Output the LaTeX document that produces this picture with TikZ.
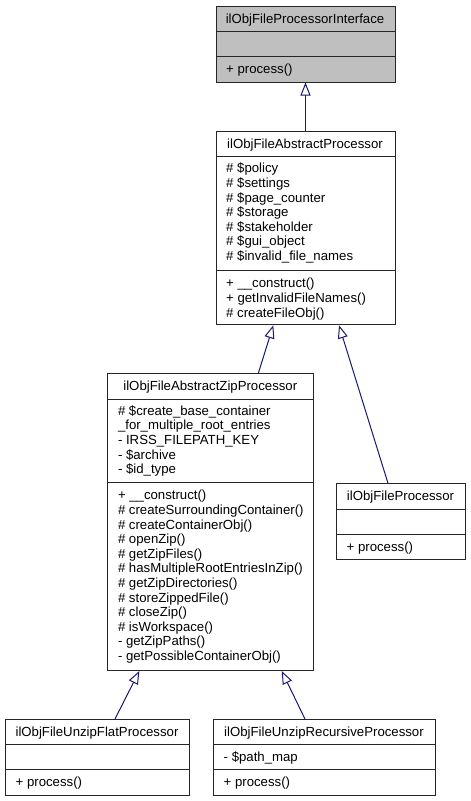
\documentclass[tikz,border=0pt]{standalone}
\usepackage{fontspec}
\setmainfont{Liberation Sans}
\usetikzlibrary{arrows.meta}
\definecolor{edgeblue}{HTML}{191970}
\definecolor{ifacegray}{HTML}{BFBFBF}
\begin{document}
\begin{tikzpicture}[x=1pt,y=-1pt,
  font=\fontsize{13.2}{15}\selectfont,
  classbox/.style={draw=black!85, line width=1pt, inner sep=0pt, anchor=north west},
  divider/.style={draw=black!85, line width=1pt},
  member/.style={inner sep=0pt, anchor=base west},
  title/.style={inner sep=0pt, anchor=base},
  inherit/.style={draw=edgeblue, line width=1pt, -{Triangle[open, length=13pt, width=10pt, fill=white]}}]
\useasboundingbox (0,0) rectangle (471,801);

% ---------- ilObjFileProcessorInterface ----------
\node[classbox, fill=ifacegray, minimum width=179pt, minimum height=76pt] (iface) at (215.5,5.5) {};
\draw[divider] (215.5,31.5) -- (394.5,31.5);
\draw[divider] (215.5,56.5) -- (394.5,56.5);
\node[title] (iface-t) at (305,23) {ilObjFileProcessorInterface};
\node[member] (iface-m0) at (226,73.5) {+ process()};

% ---------- ilObjFileAbstractProcessor ----------
\node[classbox, fill=white, minimum width=179pt, minimum height=193.3pt] (abs) at (215.5,131) {};
\draw[divider] (215.5,156.7) -- (394.5,156.7);
\draw[divider] (215.5,270) -- (394.5,270);
\node[title] (abs-t) at (305,148.4) {ilObjFileAbstractProcessor};
\foreach \t [count=\i from 0] in {\# \$policy, \# \$settings, \# \$page\_counter, \# \$storage, \# \$stakeholder, \# \$gui\_object, \# \$invalid\_file\_names}
  \node[member] (abs-a\i) at (226,{172.8+\i*14.6}) {\t};
\foreach \t [count=\i from 0] in {+ \_\_construct(), + getInvalidFileNames(), \# createFileObj()}
  \node[member] (abs-m\i) at (226,{287.8+\i*14.6}) {\t};

% ---------- ilObjFileAbstractZipProcessor ----------
\node[classbox, fill=white, minimum width=206pt, minimum height=296.7pt] (zip) at (107.3,373.3) {};
\draw[divider] (107.3,399) -- (313.3,399);
\draw[divider] (107.3,482.5) -- (313.3,482.5);
\node[title] (zip-t) at (210.3,390.7) {ilObjFileAbstractZipProcessor};
\foreach \t [count=\i from 0] in {\# \$create\_base\_container, \_for\_multiple\_root\_entries, - IRSS\_FILEPATH\_KEY, - \$archive, - \$id\_type}
  \node[member] (zip-a\i) at (117.8,{415.2+\i*14.6}) {\t};
\foreach \t [count=\i from 0] in {+ \_\_construct(), \# createSurroundingContainer(), \# createContainerObj(), \# openZip(), \# getZipFiles(), \# hasMultipleRootEntriesInZip(), \# getZipDirectories(), \# storeZippedFile(), \# closeZip(), \# isWorkspace(), - getZipPaths(), - getPossibleContainerObj()}
  \node[member] (zip-m\i) at (117.8,{499.9+\i*14.6}) {\t};

% ---------- ilObjFileProcessor ----------
\node[classbox, fill=white, minimum width=129pt, minimum height=76pt] (proc) at (336,483.3) {};
\draw[divider] (336,509) -- (465,509);
\draw[divider] (336,534) -- (465,534);
\node[title] (proc-t) at (400.5,500.7) {ilObjFileProcessor};
\node[member] (proc-m0) at (346.5,551.2) {+ process()};

% ---------- ilObjFileUnzipFlatProcessor ----------
\node[classbox, fill=white, minimum width=184pt, minimum height=76pt] (flat) at (5,719) {};
\draw[divider] (5,744.7) -- (189,744.7);
\draw[divider] (5,769.7) -- (189,769.7);
\node[title] (flat-t) at (97,736.4) {ilObjFileUnzipFlatProcessor};
\node[member] (flat-m0) at (15.5,786.9) {+ process()};

% ---------- ilObjFileUnzipRecursiveProcessor ----------
\node[classbox, fill=white, minimum width=222pt, minimum height=76pt] (rec) at (213,719) {};
\draw[divider] (213,744.7) -- (435,744.7);
\draw[divider] (213,769.7) -- (435,769.7);
\node[title] (rec-t) at (324,736.4) {ilObjFileUnzipRecursiveProcessor};
\node[member] (rec-a0) at (223.5,761.7) {- \$path\_map};
\node[member] (rec-m0) at (223.5,786.9) {+ process()};

% ---------- inheritance ----------
\draw[inherit] (abs.north) -- (iface.south);
\draw[inherit] ([xshift=151pt]zip.north west) -- ([xshift=57.8pt]abs.south west);
\draw[inherit] ([xshift=52pt]proc.north west) -- ([xshift=123.5pt]abs.south west);
\draw[inherit] ([xshift=110pt]flat.north west) -- ([xshift=32pt]zip.south west);
\draw[inherit] ([xshift=92pt]rec.north west) -- ([xshift=174.4pt]zip.south west);
\end{tikzpicture}
\end{document}
